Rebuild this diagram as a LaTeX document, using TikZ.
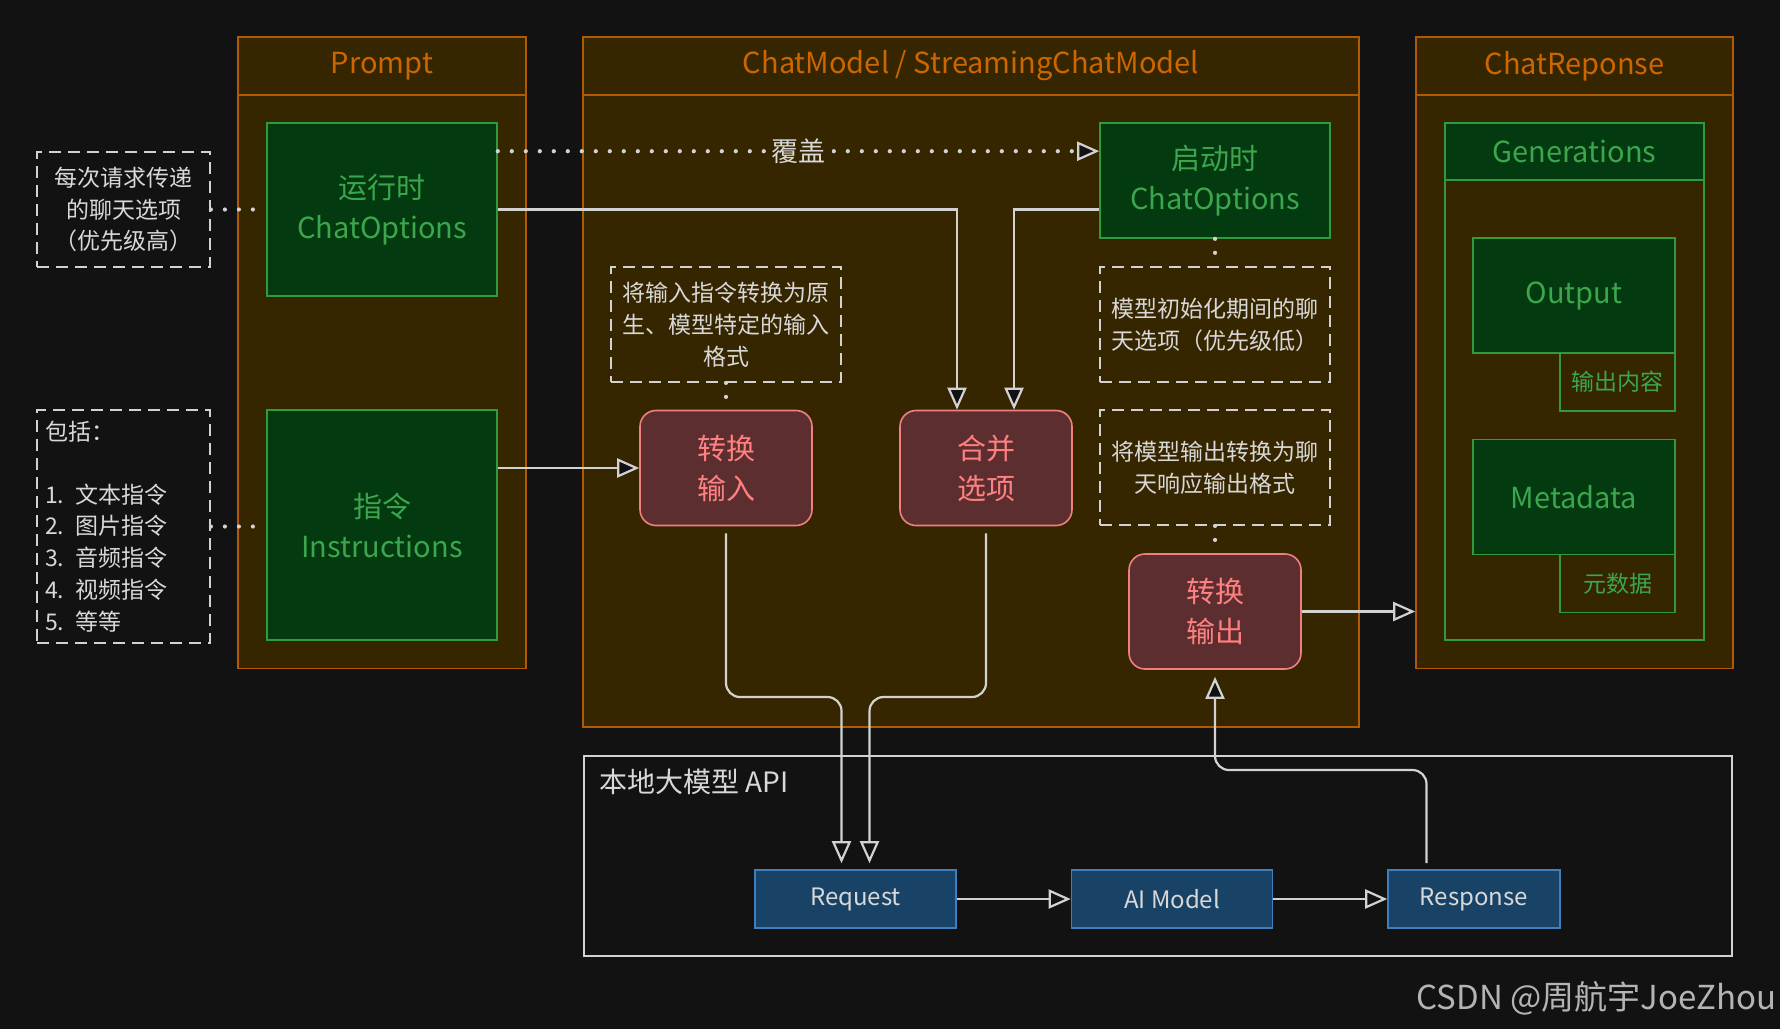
\documentclass[tikz,border=0pt]{standalone}
\usepackage{fontspec}
\setmainfont{Noto Sans CJK SC}
\usetikzlibrary{arrows.meta,calc}

\definecolor{bg}{RGB}{18,18,18}
\definecolor{brownfill}{RGB}{54,38,0}
\definecolor{orangeline}{RGB}{178,90,0}
\definecolor{orangetext}{RGB}{204,102,0}
\definecolor{greenfill}{RGB}{3,58,15}
\definecolor{greenline}{RGB}{47,154,62}
\definecolor{greentext}{RGB}{60,166,78}
\definecolor{redfill}{RGB}{92,46,48}
\definecolor{redline}{RGB}{240,128,128}
\definecolor{redtext}{RGB}{255,128,128}
\definecolor{bluefill}{RGB}{24,66,102}
\definecolor{blueline}{RGB}{61,127,191}
\definecolor{lightline}{RGB}{210,210,210}
\definecolor{notetext}{RGB}{216,216,216}
\definecolor{marktext}{RGB}{180,180,180}

\tikzset{
    panelbox/.style={draw=orangeline,fill=brownfill,line width=0.8pt,inner sep=0pt},
    paneltitle/.style={panelbox,text=orangetext,font=\fontsize{14.5}{18}\selectfont,minimum height=29pt},
    greenbox/.style={draw=greenline,fill=greenfill,line width=0.8pt,text=greentext,align=center,font=\fontsize{14.5}{20}\selectfont},
    greentag/.style={draw=greenline,fill=brownfill,line width=0.8pt,text=greentext,font=\fontsize{11.5}{14}\selectfont,minimum width=57.5pt,minimum height=29pt},
    stepbox/.style={draw=redline,fill=redfill,line width=0.8pt,rounded corners=8pt,text=redtext,align=center,font=\fontsize{14.5}{20}\selectfont,minimum width=86pt,minimum height=57.5pt},
    apibox/.style={draw=blueline,fill=bluefill,line width=0.8pt,text=notetext,font=\fontsize{12}{14}\selectfont,minimum height=29pt},
    notebox/.style={draw=lightline,dash pattern=on 6pt off 3.5pt,line width=0.9pt,text=notetext,align=center,font=\fontsize{11.5}{15.9}\selectfont},
    tip/.tip={Triangle[length=11pt,width=9.5pt,fill=bg,line width=1.1pt]},
    flowline/.style={draw=lightline,line width=1.1pt,-tip},
    dotlink/.style={draw=lightline,line width=2.1pt,line cap=round,dash pattern=on 0pt off 7pt},
}

\begin{document}
\begin{tikzpicture}[x=0.5pt,y=-0.5pt]
        \fill[bg] (0,0) rectangle (1780,1029);
        \useasboundingbox (0,0) rectangle (1780,1029);

        \node[panelbox,minimum width=144pt,minimum height=315.75pt] (promptF) at (382,352.75){};
        \node[paneltitle,minimum width=144pt] (promptT) at (382,66){Prompt};
        \node[panelbox,minimum width=388pt,minimum height=345pt] (modelF) at (971,382){};
        \node[paneltitle,minimum width=388pt] (modelT) at (971,66){ChatModel / StreamingChatModel};
        \node[panelbox,minimum width=158.5pt,minimum height=315.75pt] (replyF) at (1574.5,352.75){};
        \node[paneltitle,minimum width=158.5pt] (replyT) at (1574.5,66){ChatReponse};
        \node[draw=lightline,line width=0.9pt,minimum width=574pt,minimum height=100pt] (apiF) at (1158,856){};
        \node[anchor=west,text=notetext,font=\fontsize{14}{16}\selectfont] (apiT) at (592,782){本地大模型 API};

        \node[greenbox,minimum width=115pt,minimum height=86.5pt] (runOpt) at (382,209.5){运行时\\ChatOptions};
        \node[greenbox,minimum width=115pt,minimum height=115pt] (instr) at (382,525){指令\\Instructions};
        \node[greenbox,minimum width=115pt,minimum height=57.5pt] (bootOpt) at (1215,180.5){启动时\\ChatOptions};

        \node[draw=greenline,fill=brownfill,line width=0.8pt,minimum width=129.5pt,minimum height=258.5pt] (genF) at (1574.5,381.5){};
        \node[greenbox,minimum width=129.5pt,minimum height=28.5pt] (genT) at (1574.5,151.5){Generations};
        \node[greenbox,minimum width=101pt,minimum height=57.5pt] (output) at (1574,295.5){Output};
        \node[greentag] (outTag) at (1617.5,382){输出内容};
        \node[greenbox,minimum width=101pt,minimum height=57.5pt] (meta) at (1574,497){Metadata};
        \node[greentag] (metaTag) at (1617.5,583.5){元数据};

        \node[stepbox] (convIn) at (726,468){转换\\输入};
        \node[stepbox] (merge) at (986,468){合并\\选项};
        \node[stepbox] (convOut) at (1215,611.5){转换\\输出};

        \node[notebox,minimum width=86.5pt,minimum height=57.5pt] (noteRun) at (123.5,209.5){每次请求传递\\的聊天选项\\（优先级高）};
        \node[notebox,align=left,text width=78.5pt,minimum height=116.5pt,inner sep=4pt] (noteInstr) at (123.5,526.5){包括：\\[15.5pt]1. 文本指令\\2. 图片指令\\3. 音频指令\\4. 视频指令\\5. 等等};
        \node[notebox,minimum width=115pt,minimum height=57.5pt] (noteIn) at (726,324.5){将输入指令转换为原\\生、模型特定的输入\\格式};
        \node[notebox,minimum width=115pt,minimum height=57.5pt] (noteBoot) at (1215,324.5){模型初始化期间的聊\\天选项（优先级低）};
        \node[notebox,minimum width=115pt,minimum height=57.5pt] (noteOut) at (1215,467.5){将模型输出转换为聊\\天响应输出格式};

        \node[apibox,minimum width=100.5pt] (req) at (855.5,899){Request};
        \node[apibox,minimum width=100.5pt] (aiModel) at (1172,899){AI Model};
        \node[apibox,minimum width=86pt] (resp) at (1474,899){Response};

        \node[anchor=east,text=marktext,font=\fontsize{16.5}{20}\selectfont,inner sep=0pt] (mark) at (1777,998){CSDN @周航宇JoeZhou};

        \coordinate (reqInL) at ([xshift=-7pt]req.north);
        \coordinate (reqInR) at ([xshift=7pt]req.north);
        \coordinate (respOut) at ([xshift=-23.75pt]resp.north);
        \coordinate (lowBend) at (0,697);
        \coordinate (upBend) at (0,770);

        \draw[dotlink] (noteRun) -- (runOpt);
        \draw[dotlink] (noteInstr.east) -- (noteInstr.east -| instr.west);
        \draw[dotlink,-tip] ([yshift=-14.5pt]runOpt.north east) -- ([yshift=-14.5pt]runOpt.north east -| bootOpt.west) node[midway,fill=brownfill,text=notetext,font=\fontsize{13.5}{16}\selectfont,inner sep=3pt] (cover){覆盖};
        \draw[dotlink] (noteIn.south) -- (convIn.north);
        \draw[dotlink] (bootOpt.south) -- (noteBoot.north);
        \draw[dotlink] (noteOut.south) -- (convOut.north);

        \draw[flowline] (runOpt.east) -| ([xshift=-14.5pt]merge.north);
        \draw[flowline] (runOpt.east -| bootOpt.west) -| ([xshift=14pt]merge.north);
        \draw[flowline] (instr.east |- convIn.west) -- (convIn.west);
        \draw[flowline,rounded corners=7pt,shorten <=3.5pt,shorten >=3pt] (convIn.south) |- (lowBend -| reqInL) -- (reqInL);
        \draw[flowline,rounded corners=7pt,shorten <=3.5pt,shorten >=3pt] (merge.south) |- (lowBend -| reqInR) -- (reqInR);
        \draw[flowline,rounded corners=7pt,shorten <=3pt,shorten >=3.5pt] (respOut) |- (upBend -| convOut.south) -- (convOut.south);
        \draw[flowline] (convOut.east) -- (convOut.east -| replyF.west);
        \draw[flowline] (req) -- (aiModel);
        \draw[flowline] (aiModel) -- (resp);
    \end{tikzpicture}
\end{document}
